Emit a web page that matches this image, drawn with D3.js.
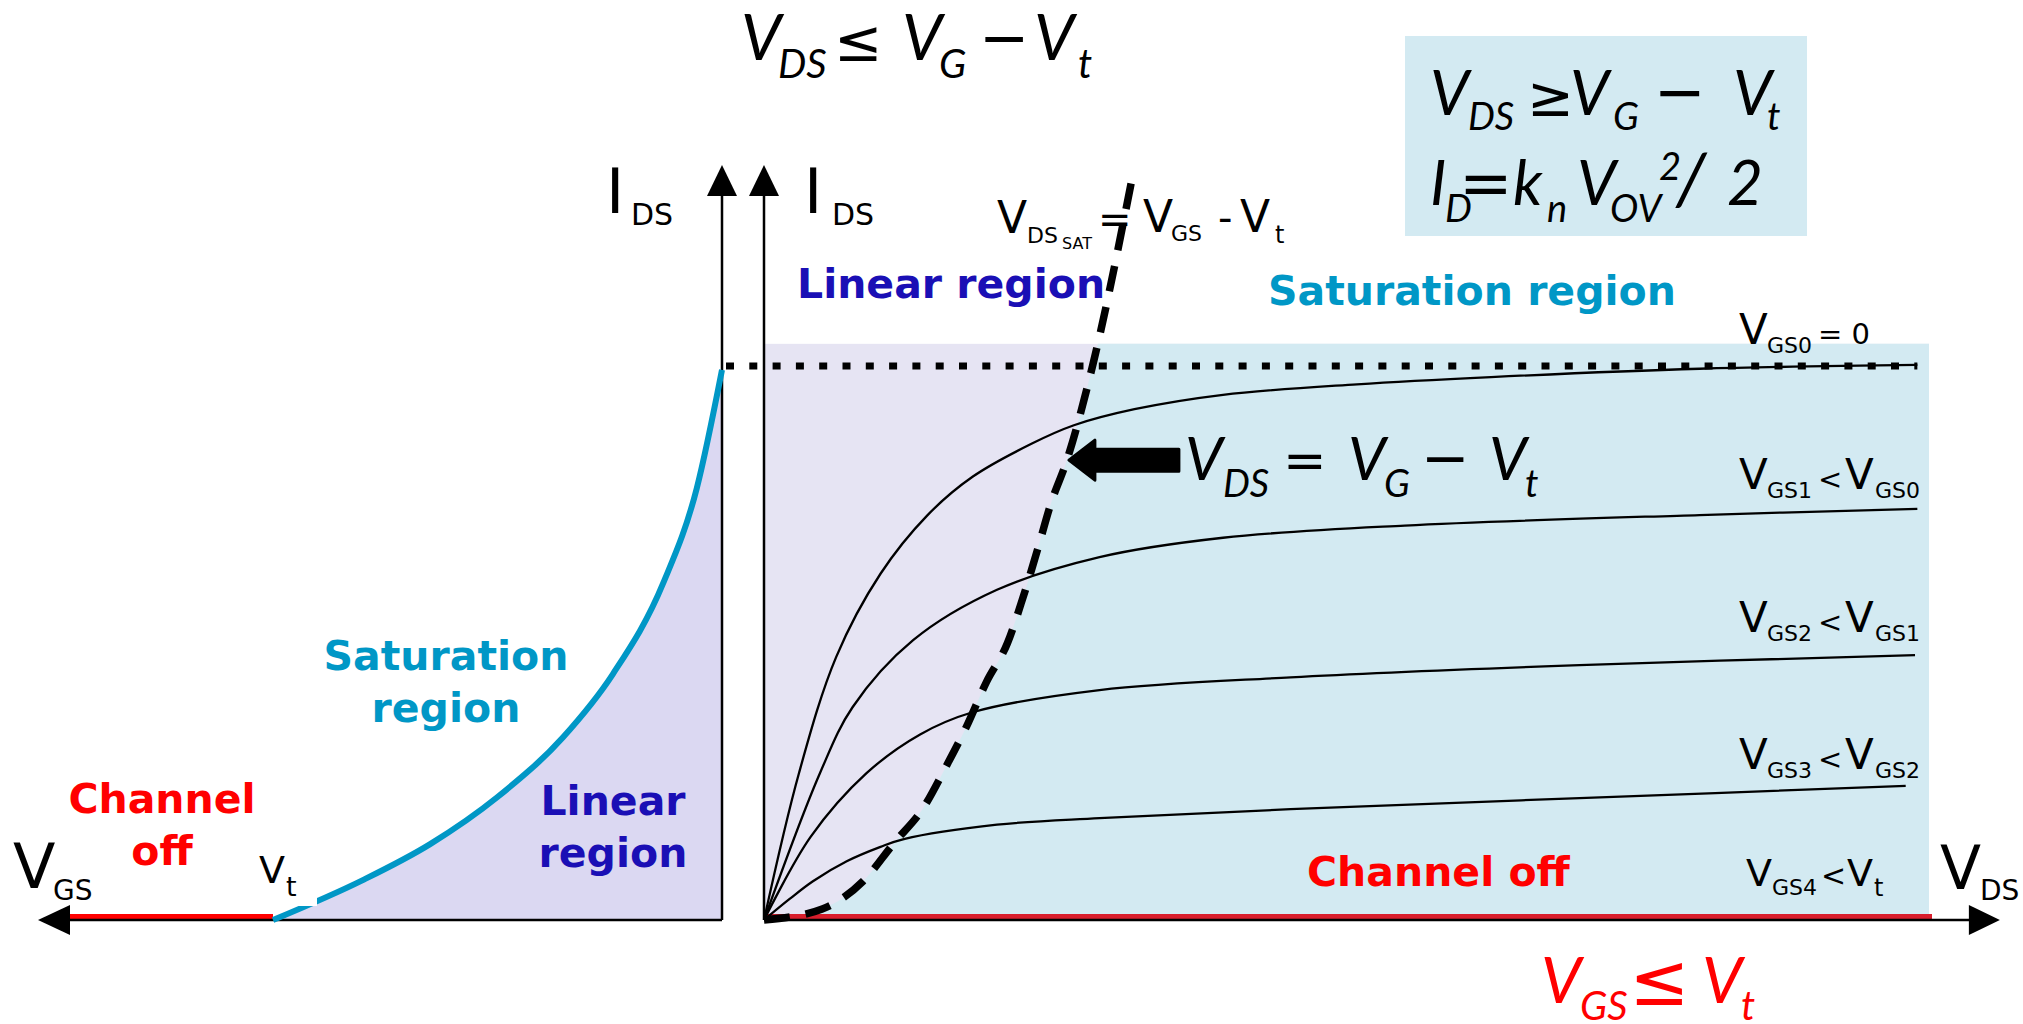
<!DOCTYPE html>
<html>
<head>
<meta charset="utf-8">
<script src="https://cdn.jsdelivr.net/npm/d3@7"></script>
<style>
  body { margin: 0; background: white; }
  svg { display: block; }
</style>
</head>
<body>
<script>
const [width, height] = [2023, 1024]

// left panel: transfer curve I_DS(V_GS), V_GS measured from Vt (0) to the I_DS axis (10)
const vgsTransfer = [0, 2.0, 3.5, 5.0, 6.46, 7.57, 8.69, 9.44, 10]
const idsTransfer = [0, 0.72, 1.37, 2.22, 3.30, 4.44, 6.08, 7.80, 9.93]

// right panel: output curves I_DS(V_DS), one per V_GS
const vdsGS0 = [0, 0.3, 0.62, 1.0, 1.4, 1.79, 2.3, 2.66, 3.18, 3.94, 5.09, 6.24, 8.03, 9.9]
const idsGS0 = [0, 2.65, 4.75, 6.25, 7.3, 8.0, 8.6, 8.93, 9.22, 9.48, 9.67, 9.80, 9.95, 10.02]
const vdsGS1 = [0, 0.48, 0.76, 1.28, 2.0, 2.88, 3.94, 5.5, 8.03, 9.9]
const idsGS1 = [0, 2.65, 3.84, 5.05, 5.96, 6.55, 6.90, 7.12, 7.31, 7.42]
const vdsGS2 = [0, 0.4, 0.88, 1.34, 1.79, 2.88, 4.52, 7.0, 9.88]
const idsGS2 = [0, 1.5, 2.65, 3.35, 3.75, 4.15, 4.38, 4.60, 4.78]
const vdsGS3 = [0, 0.22, 0.42, 0.71, 1.0, 1.2, 2.0, 2.88, 4.52, 7.0, 9.8]
const idsGS3 = [0, 0.38, 0.70, 1.06, 1.32, 1.46, 1.72, 1.84, 2.0, 2.2, 2.42]

// V_DS,sat locus (dashed parabola)
const vdsSat = [0, 0.5, 0.85, 1.12, 1.36, 1.57, 1.74, 1.91, 2.09, 2.22, 2.35, 2.46, 2.60, 2.82, 3.17]
const idsSat = [0, 0.2, 0.7, 1.4, 2.0, 2.8, 3.5, 4.3, 5.0, 5.8, 6.7, 7.5, 8.3, 10.0, 13.5]

const idsMax = 10        // dotted line, I_DSS
const idsTop = 10.4      // top of shaded region
const idsAxisTop = 13.63 // arrow tips
const vdsEnd = 10        // right edge of shaded region
const vdsAxisEnd = 10.6

const colors = {
    black: "black",
    red: "#ff0000",
    redLine: "#d81e2c",
    cyan: "#0097c6",
    navy: "#1a0fb5",
    lavLeft: "#dbd8f2",
    lavRight: "#e6e4f3",
    sat: "#d3eaf2"
}

const yI = d3.scaleLinear().domain([0, 10]).range([920, 366])
const xDS = d3.scaleLinear().domain([0, 10]).range([764, 1929])
const xGS = d3.scaleLinear().domain([0, 10]).range([273, 722])   // 0 = Vt

const zip = (a, b) => a.map((v, i) => [v, b[i]])
const lineDS = d3.line().x(d => xDS(d[0])).y(d => yI(d[1])).curve(d3.curveMonotoneX)
const smoothDS = d3.line().x(d => xDS(d[0])).y(d => yI(d[1])).curve(d3.curveCatmullRom.alpha(0.5))

const svg = d3.select("body").append("svg")
    .attr("width", width)
    .attr("height", height)
    .attr("viewBox", [0, 0, width, height])

// ---- shaded regions
svg.append("path")
    .datum(zip(vgsTransfer, idsTransfer))
    .attr("fill", colors.lavLeft)
    .attr("d", d3.area().x(d => xGS(d[0])).y0(yI(0)).y1(d => yI(d[1])).curve(d3.curveMonotoneX))

svg.append("defs").append("clipPath").attr("id", "regionClip")
    .append("rect")
        .attr("x", xDS(0)).attr("y", yI(idsTop))
        .attr("width", xDS(vdsEnd) - xDS(0)).attr("height", yI(0) - yI(idsTop))

svg.append("rect")
    .attr("x", xDS(0)).attr("y", yI(idsTop))
    .attr("width", xDS(vdsEnd) - xDS(0)).attr("height", yI(0) - yI(idsTop))
    .attr("fill", colors.lavRight)

const satPts = zip(vdsSat, idsSat)
svg.append("path")
    .attr("clip-path", "url(#regionClip)")
    .attr("fill", colors.sat)
    .attr("d", lineDS(satPts) + `L${xDS(vdsEnd)},${yI(idsSat[idsSat.length - 1])}L${xDS(vdsEnd)},${yI(0)}Z`)

// formula box
svg.append("rect")
    .attr("x", 1405).attr("y", 36).attr("width", 402).attr("height", 200)
    .attr("fill", colors.sat)

// ---- red "channel off" lines
svg.append("line")
    .attr("x1", 70).attr("x2", xGS(0)).attr("y1", yI(0) - 3).attr("y2", yI(0) - 3)
    .attr("stroke", colors.red).attr("stroke-width", 6)
svg.append("line")
    .attr("x1", xDS(0)).attr("x2", xDS(vdsEnd) + 3).attr("y1", yI(0) - 3).attr("y2", yI(0) - 3)
    .attr("stroke", colors.redLine).attr("stroke-width", 6)

// ---- axes
const axes = svg.append("g").attr("stroke", colors.black).attr("stroke-width", 2.5)
axes.append("line").attr("x1", xGS(10)).attr("x2", xGS(10)).attr("y1", yI(0)).attr("y2", yI(idsAxisTop) + 20)
axes.append("line").attr("x1", xDS(0)).attr("x2", xDS(0)).attr("y1", yI(0)).attr("y2", yI(idsAxisTop) + 20)
axes.append("line").attr("x1", xGS(10)).attr("x2", 60).attr("y1", yI(0)).attr("y2", yI(0))
axes.append("line").attr("x1", xDS(0)).attr("x2", xDS(vdsAxisEnd) - 20).attr("y1", yI(0)).attr("y2", yI(0))

const tri = (pts) => svg.append("path").attr("fill", colors.black).attr("d", "M" + pts.join("L") + "Z")
const yTip = yI(idsAxisTop)
tri([[xGS(10), yTip], [xGS(10) - 15, yTip + 31], [xGS(10) + 15, yTip + 31]])
tri([[xDS(0), yTip], [xDS(0) - 15, yTip + 31], [xDS(0) + 15, yTip + 31]])
tri([[38, yI(0)], [70, yI(0) - 15], [70, yI(0) + 15]])
const xTip = xDS(vdsAxisEnd) + 1
tri([[xTip, yI(0)], [xTip - 31, yI(0) - 15], [xTip - 31, yI(0) + 15]])

// ---- dotted I_DSS line
svg.append("line")
    .attr("x1", xGS(10) + 4).attr("x2", xDS(9.9)).attr("y1", yI(idsMax)).attr("y2", yI(idsMax))
    .attr("stroke", colors.black).attr("stroke-width", 7).attr("stroke-dasharray", "8 15.3")

// ---- output curves
const outCurves = [zip(vdsGS0, idsGS0), zip(vdsGS1, idsGS1), zip(vdsGS2, idsGS2), zip(vdsGS3, idsGS3)]
svg.append("g").selectAll("path")
    .data(outCurves)
    .enter()
    .append("path")
        .attr("fill", "none")
        .attr("stroke", colors.black)
        .attr("stroke-width", 2.3)
        .attr("d", smoothDS)

// ---- transfer curve
svg.append("path")
    .datum(zip(vgsTransfer, idsTransfer))
    .attr("fill", "none")
    .attr("stroke", colors.cyan)
    .attr("stroke-width", 6)
    .attr("d", d3.line().x(d => xGS(d[0])).y(d => yI(d[1])).curve(d3.curveMonotoneX))

svg.append("rect")   // the Vt label's white box clips the curve a little
    .attr("x", 255).attr("y", 845).attr("width", 62).attr("height", 61)
    .attr("fill", "white")

// ---- V_DS,sat dashed locus
svg.append("path")
    .datum(satPts)
    .attr("fill", "none")
    .attr("stroke", colors.black)
    .attr("stroke-width", 7.5)
    .attr("stroke-dasharray", "26 16")
    .attr("d", lineDS)

// ---- big arrow pointing at the locus
const ax = xDS(2.6) + 2, ay = yI(8.3)
svg.append("path")
    .attr("fill", colors.black)
    .attr("stroke", colors.black)
    .attr("stroke-width", 3)
    .attr("stroke-linejoin", "round")
    .attr("d", `M${ax},${ay}L${ax + 26},${ay - 20}L${ax + 26},${ay - 11}L${ax + 110},${ay - 11}L${ax + 110},${ay + 11}L${ax + 26},${ay + 11}L${ax + 26},${ay + 20}Z`)

// ---- text helpers
// part = [text, dx, dy, size, font?]
function pieces(x0, y0, parts, opts) {
    const t = svg.append("text")
        .attr("fill", opts.color || colors.black)
        .attr("font-family", opts.family)
        .attr("font-style", opts.italic ? "italic" : "normal")
        .attr("font-weight", opts.bold ? "bold" : "normal")
    parts.forEach(p => {
        const s = t.append("tspan")
            .attr("x", x0 + p[1])
            .attr("y", y0 + p[2])
            .attr("font-size", p[3])
            .text(p[0])
        if (p[4]) s.attr("font-family", p[4]).attr("font-style", "normal")
    })
    return t
}
const dv = "'DejaVu Sans', sans-serif"
const sans = { family: dv }
const math = { family: "Lato, 'Open Sans', sans-serif", italic: true }
const bold = (color) => ({ family: dv, bold: true, color: color })

// formulas
pieces(741, 60, [["V", 0, 0, 64], ["DS", 37, 18, 40], ["≤", 93, 1, 58, dv], ["V", 161, 0, 64], ["G", 198, 18, 40],
                 ["−", 238, -2, 60, dv], ["V", 293, 0, 64], ["t", 337, 18, 40]], math)
pieces(1430, 115, [["V", 0, 0, 62], ["DS", 38, 15, 38], ["≥", 97, 1, 56, dv], ["V", 140, 0, 62], ["G", 183, 15, 38],
                   ["−", 224, -2, 62, dv], ["V", 303, 0, 62], ["t", 337, 15, 38]], math)
pieces(1430, 205, [["I", 0, 0, 62], ["D", 15, 17, 38], ["=", 29, 0, 64, dv], ["k", 83, 0, 62], ["n", 117, 17, 38],
                   ["V", 147, 0, 62], ["OV", 180, 17, 38], ["2", 229, -25, 38], ["/", 246, 0, 72], ["2", 297, 0, 62]], math)
pieces(1185, 480, [["V", 0, 0, 60], ["DS", 38, 17, 38], ["=", 98, -2, 52, dv], ["V", 163, 0, 60], ["G", 199, 17, 38],
                   ["−", 236, -2, 58, dv], ["V", 304, 0, 60], ["t", 340, 17, 38]], math)
pieces(1541, 1003, [["V", 0, 0, 64], ["GS", 39, 17, 40], ["≤", 88, 2, 72, dv], ["V", 161, 0, 64], ["t", 200, 17, 40]],
       Object.assign({ color: colors.red }, math))

// axis labels
pieces(606, 213, [["I", 0, 0, 62], ["DS", 25, 12, 30]], sans)
pieces(804, 213, [["I", 0, 0, 62], ["DS", 28, 12, 30]], sans)
pieces(13, 888, [["V", 0, 0, 62], ["GS", 40, 12, 28]], sans)
pieces(1940, 889, [["V", 0, 0, 60], ["DS", 40, 11, 28]], sans)
pieces(259, 883, [["V", 0, 0, 38], ["t", 27, 13, 27]], sans)
pieces(997, 233, [["V", 0, 0, 44], ["DS", 30, 10, 22], ["SAT", 65, 16, 16], ["=", 101, 0, 40],
                  ["V", 146, -1, 44], ["GS", 174, 8, 22], ["-", 221, -1, 40], ["V", 243, -1, 44], ["t", 278, 10, 24]], sans)

// curve labels
const vgsLabels = [
    [344, [["V", 0, 0, 42], ["GS0", 28, 9, 22], ["= 0", 79, 0, 29]]],
    [489, [["V", 0, 0, 42], ["GS1", 28, 9, 22], ["<", 79, 0, 29], ["V", 106, 0, 42], ["GS0", 136, 9, 22]]],
    [632, [["V", 0, 0, 42], ["GS2", 28, 9, 22], ["<", 79, 0, 29], ["V", 106, 0, 42], ["GS1", 136, 9, 22]]],
    [769, [["V", 0, 0, 42], ["GS3", 28, 9, 22], ["<", 79, 0, 29], ["V", 106, 0, 42], ["GS2", 136, 9, 22]]]
]
vgsLabels.forEach(l => pieces(1739, l[0], l[1], sans))
pieces(1746, 886, [["V", 0, 0, 38], ["GS4", 26, 9, 22], ["<", 75, 0, 30], ["V", 101, 0, 38], ["t", 128, 10, 24]], sans)

// region labels
pieces(797, 298, [["Linear region", 0, 0, 41]], bold(colors.navy))
pieces(1268, 305, [["Saturation region", 0, 0, 41]], bold(colors.cyan))
pieces(446, 670, [["Saturation", 0, 0, 41], ["region", 0, 52, 41]], bold(colors.cyan)).attr("text-anchor", "middle")
pieces(613, 815, [["Linear", 0, 0, 41], ["region", 0, 52, 41]], bold(colors.navy)).attr("text-anchor", "middle")
pieces(162, 813, [["Channel", 0, 0, 41], ["off", 0, 52, 41]], bold(colors.red)).attr("text-anchor", "middle")
pieces(1307, 886, [["Channel off", 0, 0, 41]], bold(colors.red))
</script>
</body>
</html>
